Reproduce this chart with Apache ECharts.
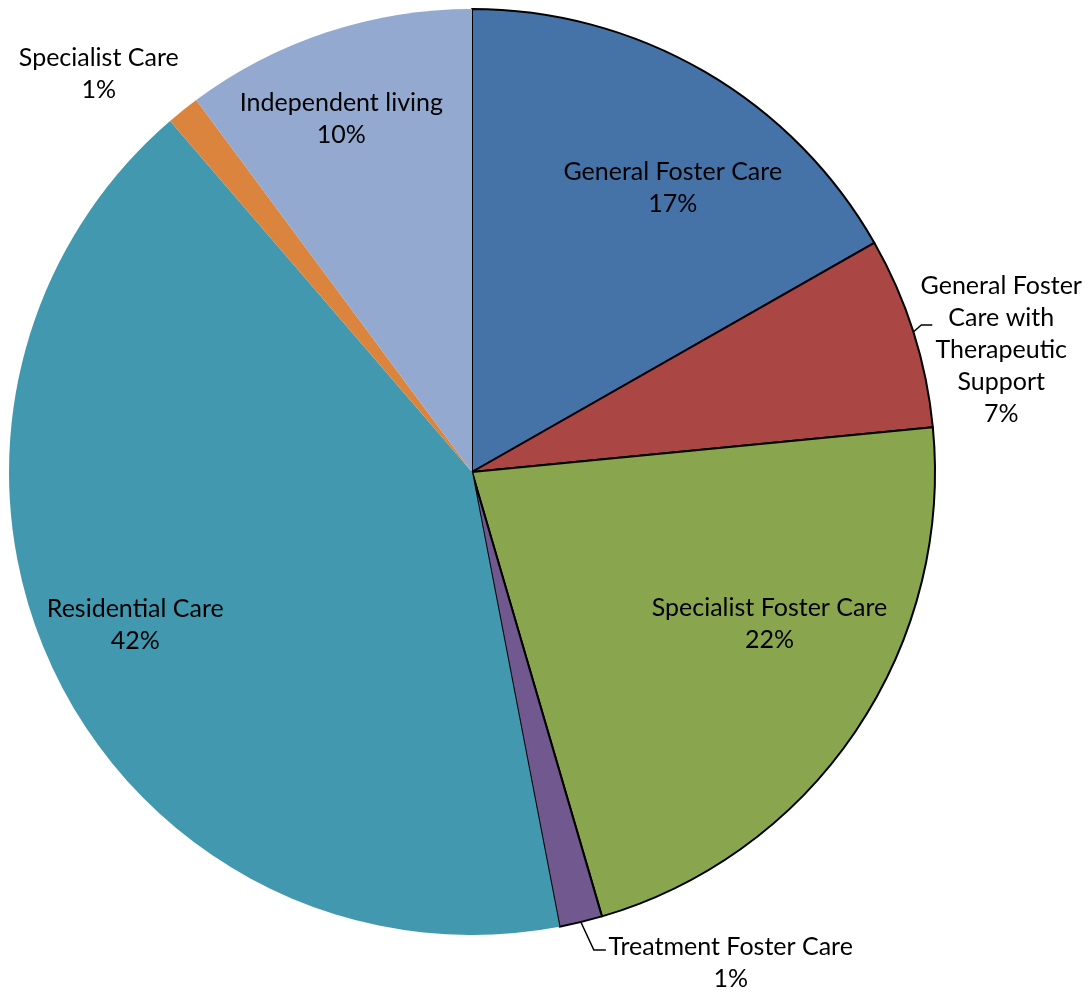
<!DOCTYPE html>
<html><head><meta charset="utf-8">
<script src="https://cdn.jsdelivr.net/npm/echarts@6/dist/echarts.min.js"></script>
<style>html,body{margin:0;padding:0;background:#fff}#c{width:1092px;height:992px}</style>
</head><body><div id="c"></div>
<script>
const categories = ['General Foster Care', 'General Foster Care with Therapeutic Support', 'Specialist Foster Care', 'Treatment Foster Care', 'Residential Care', 'Specialist Care', 'Independent living'];
const labelNames = ['General Foster Care', 'General Foster\nCare with\nTherapeutic\nSupport', 'Specialist Foster Care', 'Treatment Foster Care', 'Residential Care', 'Specialist Care', 'Independent living'];
const values = [16.75, 6.7, 22.0, 1.5, 41.7, 1.15, 10.15];
const colors = ['#4572A7', '#AA4643', '#89A54E', '#71588F', '#4198AF', '#DB843D', '#93A9CF'];
const bordered = [true, true, true, true, false, false, false];

const CX = 472, CY = 472, R = 463;
// label placement: [angle offset from slice mid-angle (deg), radius fraction]
const labelPolar = [[5.1, 0.751], [4.65, 1.173], [-7.1, 0.721], [-14.2, 1.198], [1.35, 0.799], [-4.55, 1.178], [-2, 0.814]];
const outside = [false, true, false, true, false, true, false];
const showLine = [false, true, false, true, false, false, false];
// leader elbow offsets: [dx1, dy1, dx2]
const leader = {1: [8, -7, 11], 3: [13, 28, 12]};

const total = values.reduce((a, b) => a + b, 0);
const mids = [];
let cum = 0;
values.forEach(v => { mids.push((cum + v / 2) / total * 360); cum += v; });

const chart = echarts.init(document.getElementById('c'), null, {renderer: 'canvas'});
chart.setOption({
  animation: false,
  backgroundColor: '#fff',
  series: [{
    type: 'pie',
    center: [CX, CY],
    radius: R,
    startAngle: 90,
    clockwise: true,
    avoidLabelOverlap: false,
    percentPrecision: 0,
    emphasis: {disabled: true},
    data: categories.map((name, i) => ({
      name: name,
      value: values[i],
      itemStyle: {color: colors[i], borderColor: '#000', borderWidth: bordered[i] ? 2 : 0},
      label: {position: outside[i] ? 'outside' : 'inside'},
      labelLine: {show: showLine[i], lineStyle: {color: '#000', width: 1.5}}
    })),
    label: {
      color: '#000',
      fontFamily: 'Lato',
      fontSize: 25,
      lineHeight: 32,
      align: 'center',
      formatter: p => labelNames[p.dataIndex] + '\n' + p.percent + '%'
    },
    labelLine: {length: 10, length2: 10},
    labelLayout: function (params) {
      const i = params.dataIndex;
      const lp = labelPolar[i];
      const th = (mids[i] + lp[0]) * Math.PI / 180;
      const res = {
        x: CX + lp[1] * R * Math.sin(th),
        y: CY - lp[1] * R * Math.cos(th),
        align: 'center',
        verticalAlign: 'middle'
      };
      if (leader[i]) {
        const a = mids[i] * Math.PI / 180;
        const sx = CX + R * Math.sin(a), sy = CY - R * Math.cos(a);
        const l = leader[i];
        res.labelLinePoints = [[sx, sy], [sx + l[0], sy + l[1]], [sx + l[0] + l[2], sy + l[1]]];
      }
      return res;
    }
  }]
});
</script></body></html>
